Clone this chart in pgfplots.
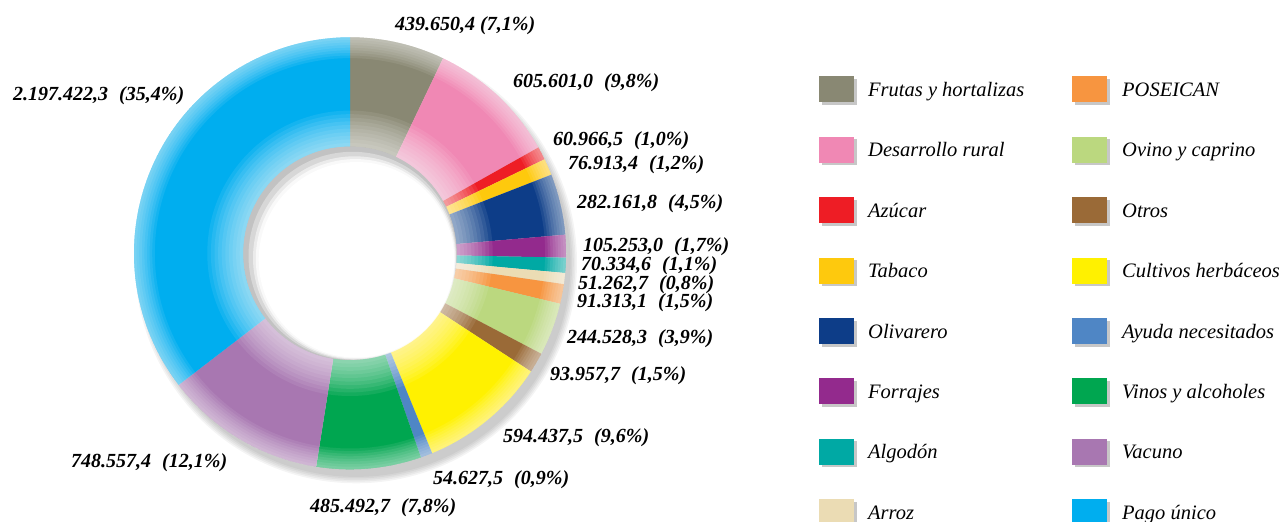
\documentclass[border=0pt]{standalone}
\usepackage{pgfplots}
\pgfplotsset{compat=1.18}
\usepackage{pgfplotstable}
\usetikzlibrary{calc}
\usepackage{fontspec}
\setmainfont{Liberation Serif}

\definecolor{pie0}{HTML}{898873}
\definecolor{pie1}{HTML}{F088B4}
\definecolor{pie2}{HTML}{EE1D25}
\definecolor{pie3}{HTML}{FEC90D}
\definecolor{pie4}{HTML}{0D3D88}
\definecolor{pie5}{HTML}{932A8D}
\definecolor{pie6}{HTML}{00A9A4}
\definecolor{pie7}{HTML}{EBDCB4}
\definecolor{pie8}{HTML}{F79540}
\definecolor{pie9}{HTML}{BBD87F}
\definecolor{pie10}{HTML}{9A6A37}
\definecolor{pie11}{HTML}{FFF100}
\definecolor{pie12}{HTML}{4F86C5}
\definecolor{pie13}{HTML}{00A650}
\definecolor{pie14}{HTML}{A877B1}
\definecolor{pie15}{HTML}{00AEEF}

\pgfplotstableread[col sep=semicolon,row sep=\\]{
value;name\\
439650.4;Frutas y hortalizas\\
605601.0;Desarrollo rural\\
60966.5;Azúcar\\
76913.4;Tabaco\\
282161.8;Olivarero\\
105253.0;Forrajes\\
70334.6;Algodón\\
51262.7;Arroz\\
91313.1;POSEICAN\\
244528.3;Ovino y caprino\\
93957.7;Otros\\
594437.5;Cultivos herbáceos\\
54627.5;Ayuda necesitados\\
485492.7;Vinos y alcoholes\\
748557.4;Vacuno\\
2197422.3;Pago único\\
}\piedata

\def\pietotal{0}
\pgfplotsforeachungrouped \i in {0,...,15}{%
  \pgfplotstablegetelem{\i}{value}\of\piedata
  \xdef\pietotal{\fpeval{\pietotal+\pgfplotsretval}}%
}
\def\piecum{0}
\pgfplotsforeachungrouped \i in {0,...,15}{%
  \pgfplotstablegetelem{\i}{value}\of\piedata
  \expandafter\xdef\csname pieA\i\endcsname{\fpeval{round(90-360*\piecum/\pietotal,4)}}%
  \xdef\piecum{\fpeval{\piecum+\pgfplotsretval}}%
  \expandafter\xdef\csname pieB\i\endcsname{\fpeval{round(90-360*\piecum/\pietotal,4)}}%
  \pgfplotstablegetelem{\i}{name}\of\piedata
  \expandafter\global\expandafter\let\csname pieN\i\endcsname\pgfplotsretval
}

\def\cx{350}
\def\cy{268.7}
\def\Ro{216}
\def\Ri{106.7}
\newcommand\lbl{\fontsize{20}{24}\selectfont\bfseries\itshape}
\newcommand\gap{\hspace{0.55em}}

\begin{document}
\begin{tikzpicture}
\begin{axis}[name=ax,width=1283pt,height=522pt,scale only axis,
  xmin=0,xmax=1283,ymin=0,ymax=522,hide axis,clip=false]
% drop shadow
\pgfplotsinvokeforeach{0,...,4}{%
  \edef\tmp{\noexpand\fill[black,opacity=0.045] ($(axis cs:\cx,\cy)+(6pt,-9pt)$) circle[radius=\fpeval{221-1.6*#1}pt];}\tmp
}
% sectors
\pgfplotsinvokeforeach{0,...,15}{%
  \edef\tmp{\noexpand\fill[pie#1] ($(axis cs:\cx,\cy)+(\csname pieA#1\endcsname:\Ro pt)$) arc[start angle=\csname pieA#1\endcsname, end angle=\csname pieB#1\endcsname, radius=\Ro pt] -- ($(axis cs:\cx,\cy)+(\csname pieB#1\endcsname:\Ri pt)$) arc[start angle=\csname pieB#1\endcsname, end angle=\csname pieA#1\endcsname, radius=\Ri pt] -- cycle;}\tmp
}
% white fading at inner and outer edges
\pgfplotsinvokeforeach{1,...,10}{%
  \edef\tmp{\noexpand\fill[white,opacity=0.08,even odd rule] (axis cs:\cx,\cy) circle[radius=\fpeval{\Ri+3.6*#1}pt] (axis cs:\cx,\cy) circle[radius=\Ri pt];}\tmp
}
\pgfplotsinvokeforeach{1,...,8}{%
  \edef\tmp{\noexpand\fill[white,opacity=0.08,even odd rule] (axis cs:\cx,\cy) circle[radius=\Ro pt] (axis cs:\cx,\cy) circle[radius=\fpeval{\Ro-2.6*#1}pt];}\tmp
}
% hole
\edef\tmp{\noexpand\fill[black!24] (axis cs:\cx,\cy) circle[radius=\Ri pt];}\tmp
\edef\tmp{\noexpand\fill[white,opacity=0.35] ($(axis cs:\cx,\cy)+(2.5pt,-2.5pt)$) circle[radius=104pt];}\tmp
\edef\tmp{\noexpand\fill[white,opacity=0.5] ($(axis cs:\cx,\cy)+(4.5pt,-4.5pt)$) circle[radius=101.5pt];}\tmp
\edef\tmp{\noexpand\fill[white,opacity=0.7] ($(axis cs:\cx,\cy)+(5.5pt,-5.5pt)$) circle[radius=99.7pt];}\tmp
\edef\tmp{\noexpand\fill[white] ($(axis cs:\cx,\cy)+(6.5pt,-6.5pt)$) circle[radius=97.8pt];}\tmp
% legend
\pgfplotsinvokeforeach{0,...,15}{%
  \edef\tmp{%
    \noexpand\fill[black!22] (axis cs:\fpeval{821.5+253*trunc(#1/8)},\fpeval{522-(89.5+60.4*(#1-8*trunc(#1/8)))-15.5}) rectangle (axis cs:\fpeval{856.5+253*trunc(#1/8)},\fpeval{522-(89.5+60.4*(#1-8*trunc(#1/8)))+10.5});
    \noexpand\fill[pie#1] (axis cs:\fpeval{819+253*trunc(#1/8)},\fpeval{522-(89.5+60.4*(#1-8*trunc(#1/8)))-13}) rectangle (axis cs:\fpeval{854+253*trunc(#1/8)},\fpeval{522-(89.5+60.4*(#1-8*trunc(#1/8)))+13});
    \noexpand\node[anchor=base west,inner sep=0pt,font=\noexpand\fontsize{20.5}{24}\noexpand\selectfont\noexpand\itshape] at (axis cs:\fpeval{868+254*trunc(#1/8)},\fpeval{522-(89.5+60.4*(#1-8*trunc(#1/8)))-7}) {\csname pieN#1\endcsname};
  }\tmp
}
% value labels
\node[anchor=base west,inner sep=0pt,font=\lbl] at (axis cs:395,491.5) {439.650,4 (7,1\%)};
\node[anchor=base west,inner sep=0pt,font=\lbl] at (axis cs:513,434) {605.601,0\gap(9,8\%)};
\node[anchor=base west,inner sep=0pt,font=\lbl] at (axis cs:553,376.5) {60.966,5\gap(1,0\%)};
\node[anchor=base west,inner sep=0pt,font=\lbl] at (axis cs:568,352) {76.913,4\gap(1,2\%)};
\node[anchor=base west,inner sep=0pt,font=\lbl] at (axis cs:577,313) {282.161,8\gap(4,5\%)};
\node[anchor=base west,inner sep=0pt,font=\lbl] at (axis cs:583,270.5) {105.253,0\gap(1,7\%)};
\node[anchor=base west,inner sep=0pt,font=\lbl] at (axis cs:581,251.5) {70.334,6\gap(1,1\%)};
\node[anchor=base west,inner sep=0pt,font=\lbl] at (axis cs:578,232) {51.262,7\gap(0,8\%)};
\node[anchor=base west,inner sep=0pt,font=\lbl] at (axis cs:577,214) {91.313,1\gap(1,5\%)};
\node[anchor=base west,inner sep=0pt,font=\lbl] at (axis cs:567,178) {244.528,3\gap(3,9\%)};
\node[anchor=base west,inner sep=0pt,font=\lbl] at (axis cs:550,141.5) {93.957,7\gap(1,5\%)};
\node[anchor=base west,inner sep=0pt,font=\lbl] at (axis cs:503,79.5) {594.437,5\gap(9,6\%)};
\node[anchor=base west,inner sep=0pt,font=\lbl] at (axis cs:433,37) {54.627,5\gap(0,9\%)};
\node[anchor=base west,inner sep=0pt,font=\lbl] at (axis cs:310,9) {485.492,7\gap(7,8\%)};
\node[anchor=base west,inner sep=0pt,font=\lbl] at (axis cs:71,54) {748.557,4\gap(12,1\%)};
\node[anchor=base west,inner sep=0pt,font=\lbl] at (axis cs:13,421.5) {2.197.422,3\gap(35,4\%)};
\end{axis}
\pgfresetboundingbox
\useasboundingbox (ax.south west) rectangle (ax.north east);
\end{tikzpicture}
\end{document}
